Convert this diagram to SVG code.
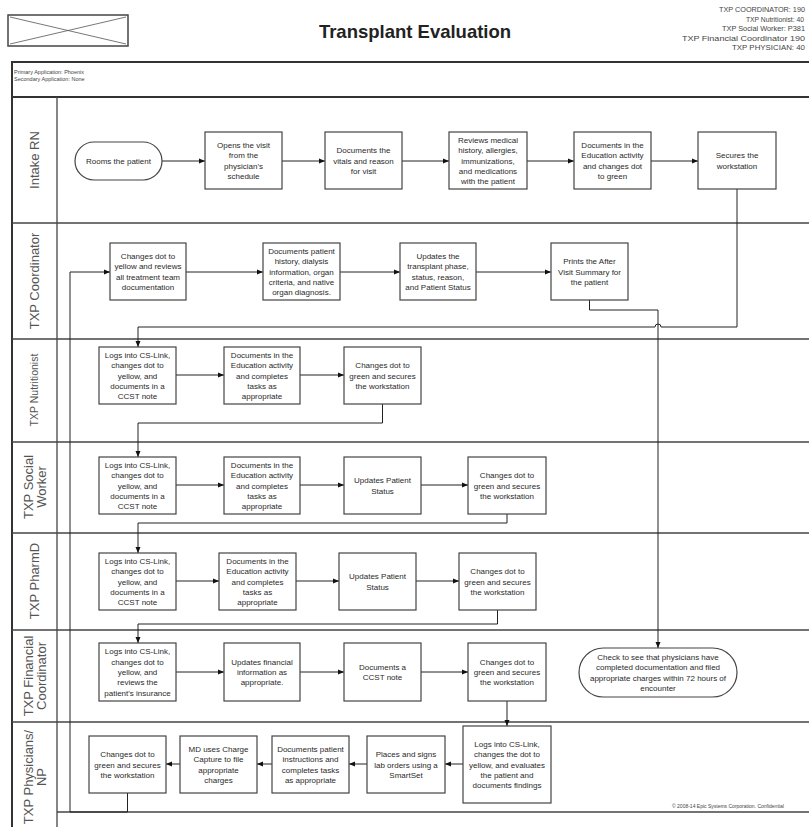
<svg xmlns="http://www.w3.org/2000/svg" width="809" height="827" viewBox="0 0 809 827">
<defs>
<marker id="arr" markerWidth="6" markerHeight="6" refX="6" refY="3" orient="auto" markerUnits="userSpaceOnUse">
<path d="M0,0.5 L6,3 L0,5.5 z" fill="#111"/>
</marker>
<style>
.box{fill:#fff;stroke:#444;stroke-width:1.2}
.t{font-family:"Liberation Sans",Arial,sans-serif;font-size:8px;fill:#2a2a2a;text-anchor:middle}
.lane{font-family:"Liberation Sans",Arial,sans-serif;font-size:13px;fill:#555;text-anchor:middle}
.hdr{font-family:"Liberation Sans",Arial,sans-serif;fill:#444}
.sep{stroke:#444;stroke-width:1.3;fill:none}
.frame{stroke:#333;stroke-width:2;fill:none}
.conn{fill:none;stroke:#222;stroke-width:1;marker-end:url(#arr)}
</style>
</defs>
<rect width="809" height="827" fill="#fff"/>

<g id="header">
<rect x="8" y="15" width="120" height="31" fill="none" stroke="#444" stroke-width="1.5"/>
<line x1="10" y1="17" x2="126" y2="44" stroke="#555" stroke-width="0.8"/>
<line x1="10" y1="44" x2="126" y2="17" stroke="#555" stroke-width="0.8"/>
<text x="415" y="38" font-family="Liberation Sans,Arial,sans-serif" font-size="18.5" font-weight="bold" fill="#222" text-anchor="middle">Transplant Evaluation</text>
<text class="hdr" x="719" y="12" font-size="7.5" textLength="86" lengthAdjust="spacingAndGlyphs">TXP COORDINATOR: 190</text>
<text class="hdr" x="746" y="21.5" font-size="7.5" textLength="58" lengthAdjust="spacingAndGlyphs">TXP Nutritionist: 40</text>
<text class="hdr" x="722" y="31" font-size="7.5" textLength="83" lengthAdjust="spacingAndGlyphs">TXP Social Worker: P381</text>
<text class="hdr" x="682" y="40.5" font-size="7.5" textLength="123" lengthAdjust="spacingAndGlyphs">TXP Financial Coordinator 190</text>
<text class="hdr" x="732" y="50" font-size="7.5" textLength="73" lengthAdjust="spacingAndGlyphs">TXP PHYSICIAN: 40</text>
<text class="hdr" x="14" y="74" font-size="5.5">Primary Application: Phoenix</text>
<text class="hdr" x="14" y="81" font-size="5.5">Secondary Application: None</text>
<text class="hdr" x="672" y="808" font-size="5">© 2008-14 Epic Systems Corporation. Confidential</text>
</g>

<g id="lanes">
<path class="frame" d="M809,62 H12 V827"/>
<line class="frame" x1="12" y1="97" x2="809" y2="97"/>
<line class="sep" x1="57" y1="97" x2="57" y2="827"/>
<line class="sep" x1="12" y1="223" x2="809" y2="223"/>
<line class="sep" x1="12" y1="339" x2="809" y2="339"/>
<line class="sep" x1="12" y1="442" x2="809" y2="442"/>
<line class="sep" x1="12" y1="533" x2="809" y2="533"/>
<line class="sep" x1="12" y1="630" x2="809" y2="630"/>
<line class="sep" x1="12" y1="722" x2="809" y2="722"/>
<line class="sep" x1="57" y1="812" x2="809" y2="812"/>
<text class="lane" transform="translate(34.5,160) rotate(-90)" y="4.7">Intake RN</text>
<text class="lane" transform="translate(34.5,281) rotate(-90)" y="4.7">TXP Coordinator</text>
<text class="lane" transform="translate(34.5,390) rotate(-90)" y="3.8" style="font-size:10.5px">TXP Nutritionist</text>
<text class="lane" transform="translate(34.5,487) rotate(-90)"><tspan x="0" y="-1.8">TXP Social</tspan><tspan x="0" y="11.4">Worker</tspan></text>
<text class="lane" transform="translate(34.5,581) rotate(-90)" y="4.7">TXP PharmD</text>
<text class="lane" transform="translate(34.5,676) rotate(-90)"><tspan x="0" y="-1.8">TXP Financial</tspan><tspan x="0" y="11.4">Coordinator</tspan></text>
<text class="lane" transform="translate(34.5,777) rotate(-90)"><tspan x="0" y="-1.8">TXP Physicians/</tspan><tspan x="0" y="11.4">NP</tspan></text>
</g>

<g id="connectors">
<line class="conn" x1="162" y1="161" x2="205" y2="161"/>
<line class="conn" x1="282" y1="161" x2="325" y2="161"/>
<line class="conn" x1="402" y1="161" x2="449" y2="161"/>
<line class="conn" x1="527" y1="161" x2="574" y2="161"/>
<line class="conn" x1="651" y1="161" x2="698" y2="161"/>
<path class="conn" d="M737,189 V327 H661 A3,3 0 0 0 655,327 H138 V347"/>
<line class="conn" x1="186" y1="272" x2="263" y2="272"/>
<line class="conn" x1="340" y1="272" x2="400" y2="272"/>
<line class="conn" x1="476" y1="272" x2="551" y2="272"/>
<path class="conn" d="M589.5,300 V310 H658 V648"/>
<line class="conn" x1="176" y1="375" x2="224" y2="375"/>
<line class="conn" x1="300" y1="375" x2="344" y2="375"/>
<path class="conn" d="M382.5,404 V423 H138 V457"/>
<line class="conn" x1="176" y1="485" x2="224" y2="485"/>
<line class="conn" x1="300" y1="485" x2="344" y2="485"/>
<line class="conn" x1="421" y1="485" x2="468" y2="485"/>
<path class="conn" d="M507,514 V523 H138 V553"/>
<line class="conn" x1="176" y1="581" x2="219" y2="581"/>
<line class="conn" x1="296" y1="581" x2="339" y2="581"/>
<line class="conn" x1="416" y1="581" x2="459" y2="581"/>
<path class="conn" d="M497.5,610 V624 H138 V643"/>
<line class="conn" x1="176" y1="672" x2="224" y2="672"/>
<line class="conn" x1="300" y1="672" x2="344" y2="672"/>
<line class="conn" x1="421" y1="672" x2="468" y2="672"/>
<line class="conn" x1="507" y1="701" x2="507" y2="726"/>
<line class="conn" x1="463" y1="764" x2="445" y2="764"/>
<line class="conn" x1="367" y1="764" x2="349" y2="764"/>
<line class="conn" x1="272" y1="764" x2="257" y2="764"/>
<line class="conn" x1="180" y1="764" x2="166" y2="764"/>
<path class="conn" d="M127.5,793 V812 H70 V272 H110"/>
</g>

<g id="intake-rooms"><rect class="box" x="75" y="142" width="87" height="38" rx="19"/><text class="t" x="118.5" y="164">Rooms the patient</text></g>
<g id="intake-opens"><rect class="box" x="205" y="132" width="77" height="57"/><text class="t" x="243.5" y="148"><tspan x="243.5">Opens the visit</tspan><tspan x="243.5" dy="10.3">from the</tspan><tspan x="243.5" dy="10.3">physician's</tspan><tspan x="243.5" dy="10.3">schedule</tspan></text></g>
<g id="intake-vitals"><rect class="box" x="325" y="132" width="77" height="57"/><text class="t" x="363.5" y="153.2"><tspan x="363.5">Documents the</tspan><tspan x="363.5" dy="10.3">vitals and reason</tspan><tspan x="363.5" dy="10.3">for visit</tspan></text></g>
<g id="intake-reviews"><rect class="box" x="449" y="132" width="78" height="57"/><text class="t" x="488" y="142.9"><tspan x="488">Reviews medical</tspan><tspan x="488" dy="10.3">history, allergies,</tspan><tspan x="488" dy="10.3">immunizations,</tspan><tspan x="488" dy="10.3">and medications</tspan><tspan x="488" dy="10.3">with the patient</tspan></text></g>
<g id="intake-education"><rect class="box" x="574" y="132" width="77" height="57"/><text class="t" x="612.5" y="148"><tspan x="612.5">Documents in the</tspan><tspan x="612.5" dy="10.3">Education activity</tspan><tspan x="612.5" dy="10.3">and changes dot</tspan><tspan x="612.5" dy="10.3">to green</tspan></text></g>
<g id="intake-secures"><rect class="box" x="698" y="132" width="78" height="57"/><text class="t" x="737" y="158.4"><tspan x="737">Secures the</tspan><tspan x="737" dy="10.3">workstation</tspan></text></g>

<g id="coord-changes"><rect class="box" x="110" y="243" width="76" height="57"/><text class="t" x="148" y="259"><tspan x="148">Changes dot to</tspan><tspan x="148" dy="10.3">yellow and reviews</tspan><tspan x="148" dy="10.3">all treatment team</tspan><tspan x="148" dy="10.3">documentation</tspan></text></g>
<g id="coord-history"><rect class="box" x="263" y="243" width="77" height="57"/><text class="t" x="301.5" y="253.9"><tspan x="301.5">Documents patient</tspan><tspan x="301.5" dy="10.3">history, dialysis</tspan><tspan x="301.5" dy="10.3">information, organ</tspan><tspan x="301.5" dy="10.3">criteria, and native</tspan><tspan x="301.5" dy="10.3">organ diagnosis.</tspan></text></g>
<g id="coord-updates"><rect class="box" x="400" y="243" width="76" height="57"/><text class="t" x="438" y="259"><tspan x="438">Updates the</tspan><tspan x="438" dy="10.3">transplant phase,</tspan><tspan x="438" dy="10.3">status, reason,</tspan><tspan x="438" dy="10.3">and Patient Status</tspan></text></g>
<g id="coord-prints"><rect class="box" x="551" y="243" width="77" height="57"/><text class="t" x="589.5" y="264.2"><tspan x="589.5">Prints the After</tspan><tspan x="589.5" dy="10.3">Visit Summary for</tspan><tspan x="589.5" dy="10.3">the patient</tspan></text></g>

<g id="nutri-logs"><rect class="box" x="99" y="347" width="77" height="57"/><text class="t" x="137.5" y="357.9"><tspan x="137.5">Logs into CS-Link,</tspan><tspan x="137.5" dy="10.3">changes dot to</tspan><tspan x="137.5" dy="10.3">yellow, and</tspan><tspan x="137.5" dy="10.3">documents in a</tspan><tspan x="137.5" dy="10.3">CCST note</tspan></text></g>
<g id="nutri-education"><rect class="box" x="224" y="347" width="76" height="57"/><text class="t" x="262" y="357.9"><tspan x="262">Documents in the</tspan><tspan x="262" dy="10.3">Education activity</tspan><tspan x="262" dy="10.3">and completes</tspan><tspan x="262" dy="10.3">tasks as</tspan><tspan x="262" dy="10.3">appropriate</tspan></text></g>
<g id="nutri-secures"><rect class="box" x="344" y="347" width="77" height="57"/><text class="t" x="382.5" y="368.2"><tspan x="382.5">Changes dot to</tspan><tspan x="382.5" dy="10.3">green and secures</tspan><tspan x="382.5" dy="10.3">the workstation</tspan></text></g>

<g id="social-logs"><rect class="box" x="99" y="457" width="77" height="57"/><text class="t" x="137.5" y="467.9"><tspan x="137.5">Logs into CS-Link,</tspan><tspan x="137.5" dy="10.3">changes dot to</tspan><tspan x="137.5" dy="10.3">yellow, and</tspan><tspan x="137.5" dy="10.3">documents in a</tspan><tspan x="137.5" dy="10.3">CCST note</tspan></text></g>
<g id="social-education"><rect class="box" x="224" y="457" width="76" height="57"/><text class="t" x="262" y="467.9"><tspan x="262">Documents in the</tspan><tspan x="262" dy="10.3">Education activity</tspan><tspan x="262" dy="10.3">and completes</tspan><tspan x="262" dy="10.3">tasks as</tspan><tspan x="262" dy="10.3">appropriate</tspan></text></g>
<g id="social-status"><rect class="box" x="344" y="457" width="77" height="57"/><text class="t" x="382.5" y="483.4"><tspan x="382.5">Updates Patient</tspan><tspan x="382.5" dy="10.3">Status</tspan></text></g>
<g id="social-secures"><rect class="box" x="468" y="457" width="78" height="57"/><text class="t" x="507" y="478.2"><tspan x="507">Changes dot to</tspan><tspan x="507" dy="10.3">green and secures</tspan><tspan x="507" dy="10.3">the workstation</tspan></text></g>

<g id="pharm-logs"><rect class="box" x="99" y="553" width="77" height="57"/><text class="t" x="137.5" y="563.9"><tspan x="137.5">Logs into CS-Link,</tspan><tspan x="137.5" dy="10.3">changes dot to</tspan><tspan x="137.5" dy="10.3">yellow, and</tspan><tspan x="137.5" dy="10.3">documents in a</tspan><tspan x="137.5" dy="10.3">CCST note</tspan></text></g>
<g id="pharm-education"><rect class="box" x="219" y="553" width="77" height="57"/><text class="t" x="257.5" y="563.9"><tspan x="257.5">Documents in the</tspan><tspan x="257.5" dy="10.3">Education activity</tspan><tspan x="257.5" dy="10.3">and completes</tspan><tspan x="257.5" dy="10.3">tasks as</tspan><tspan x="257.5" dy="10.3">appropriate</tspan></text></g>
<g id="pharm-status"><rect class="box" x="339" y="553" width="77" height="57"/><text class="t" x="377.5" y="579.4"><tspan x="377.5">Updates Patient</tspan><tspan x="377.5" dy="10.3">Status</tspan></text></g>
<g id="pharm-secures"><rect class="box" x="459" y="553" width="77" height="57"/><text class="t" x="497.5" y="574.2"><tspan x="497.5">Changes dot to</tspan><tspan x="497.5" dy="10.3">green and secures</tspan><tspan x="497.5" dy="10.3">the workstation</tspan></text></g>

<g id="fin-logs"><rect class="box" x="99" y="643" width="77" height="58"/><text class="t" x="137.5" y="654.4"><tspan x="137.5">Logs into CS-Link,</tspan><tspan x="137.5" dy="10.3">changes dot to</tspan><tspan x="137.5" dy="10.3">yellow, and</tspan><tspan x="137.5" dy="10.3">reviews the</tspan><tspan x="137.5" dy="10.3">patient's insurance</tspan></text></g>
<g id="fin-updates"><rect class="box" x="224" y="643" width="76" height="58"/><text class="t" x="262" y="664.7"><tspan x="262">Updates financial</tspan><tspan x="262" dy="10.3">information as</tspan><tspan x="262" dy="10.3">appropriate.</tspan></text></g>
<g id="fin-note"><rect class="box" x="344" y="643" width="77" height="58"/><text class="t" x="382.5" y="669.9"><tspan x="382.5">Documents a</tspan><tspan x="382.5" dy="10.3">CCST note</tspan></text></g>
<g id="fin-secures"><rect class="box" x="468" y="643" width="78" height="58"/><text class="t" x="507" y="664.7"><tspan x="507">Changes dot to</tspan><tspan x="507" dy="10.3">green and secures</tspan><tspan x="507" dy="10.3">the workstation</tspan></text></g>
<g id="fin-check"><rect class="box" x="579" y="648" width="158" height="49" rx="24.5"/><text class="t" x="658" y="660"><tspan x="658">Check to see that physicians have</tspan><tspan x="658" dy="10.3">completed documentation and filed</tspan><tspan x="658" dy="10.3">appropriate charges within 72 hours of</tspan><tspan x="658" dy="10.3">encounter</tspan></text></g>

<g id="phys-secures"><rect class="box" x="89" y="736" width="77" height="57"/><text class="t" x="127.5" y="757.2"><tspan x="127.5">Changes dot to</tspan><tspan x="127.5" dy="10.3">green and secures</tspan><tspan x="127.5" dy="10.3">the workstation</tspan></text></g>
<g id="phys-charge"><rect class="box" x="180" y="736" width="77" height="57"/><text class="t" x="218.5" y="752"><tspan x="218.5">MD uses Charge</tspan><tspan x="218.5" dy="10.3">Capture to file</tspan><tspan x="218.5" dy="10.3">appropriate</tspan><tspan x="218.5" dy="10.3">charges</tspan></text></g>
<g id="phys-instructions"><rect class="box" x="272" y="736" width="77" height="57"/><text class="t" x="310.5" y="752"><tspan x="310.5">Documents patient</tspan><tspan x="310.5" dy="10.3">instructions and</tspan><tspan x="310.5" dy="10.3">completes tasks</tspan><tspan x="310.5" dy="10.3">as appropriate</tspan></text></g>
<g id="phys-orders"><rect class="box" x="367" y="736" width="78" height="57"/><text class="t" x="406" y="757.2"><tspan x="406">Places and signs</tspan><tspan x="406" dy="10.3">lab orders using a</tspan><tspan x="406" dy="10.3">SmartSet</tspan></text></g>
<g id="phys-logs"><rect class="box" x="463" y="726" width="88" height="77"/><text class="t" x="507" y="746.9"><tspan x="507">Logs into CS-Link,</tspan><tspan x="507" dy="10.3">changes the dot to</tspan><tspan x="507" dy="10.3">yellow, and evaluates</tspan><tspan x="507" dy="10.3">the patient and</tspan><tspan x="507" dy="10.3">documents findings</tspan></text></g>
</svg>
